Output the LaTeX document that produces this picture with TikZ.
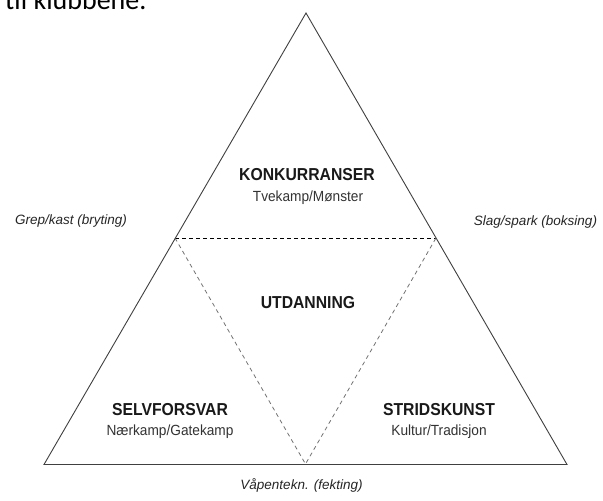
\documentclass[tikz,border=0pt]{standalone}
\usepackage{fontspec}
\setmainfont{Liberation Sans}
\newfontfamily\calib{Carlito}
\newfontfamily\headfont[FakeStretch=0.91]{Liberation Sans}
\newfontfamily\subfont[FakeStretch=0.93]{Liberation Sans}
\begin{document}
\begin{tikzpicture}[x=1pt,y=-1pt,
  outline/.style={draw=black!75, line width=0.9pt, line join=miter},
  hdash/.style={draw=black, line width=0.8pt, dash pattern=on 4pt off 3pt},
  ddash/.style={draw=black!55, line width=0.8pt, dash pattern=on 4pt off 3.5pt},
  head/.style={font=\headfont\fontsize{17.3}{20}\selectfont\bfseries, inner sep=0pt, text=black!90},
  sub/.style={font=\subfont\fontsize{14.7}{17}\selectfont, inner sep=0pt, text=black!80},
  side/.style={font=\fontsize{13.5}{16}\selectfont\itshape, inner sep=0pt, text=black!85}]
\useasboundingbox (0,0) rectangle (603,501);
\clip (0,0) rectangle (603,501);
\fill[white] (0,0) rectangle (603,501);
% cut-off text at top
\node[anchor=base west, inner sep=0pt, font=\calib\fontsize{28}{32}\selectfont] (top) at (5,9) {til klubbene.};
% triangle corners
\coordinate (A) at (306,13);
\coordinate (L) at (44,464.5);
\coordinate (R) at (567,464.5);
\coordinate (ML) at (175,238);
\coordinate (MR) at (436,238);
\coordinate (MB) at (305.5,464);
\draw[hdash] (ML) -- (MR);
\draw[ddash] (ML) -- (MB) -- (MR);
\draw[outline] (A) -- (L) -- (R) -- cycle;
% labels
\node[head] (kon) at (307,175) {KONKURRANSER};
\node[sub] (konsub) at (308,198) {Tvekamp/Mønster};
\node[head] (utd) at (308,303) {UTDANNING};
\node[head] (sel) at (170,410) {SELVFORSVAR};
\node[sub] (selsub) at (170,432) {Nærkamp/Gatekamp};
\node[head] (str) at (439,410) {STRIDSKUNST};
\node[sub] (strsub) at (439,432) {Kultur/Tradisjon};
\node[side] (grep) at (71,221) {Grep/kast (bryting)};
\node[side] (slag) at (535.5,222) {Slag/spark (boksing)};
\node[side] (vap) at (301.5,485) {Våpentekn. (fekting)};
\end{tikzpicture}
\end{document}
